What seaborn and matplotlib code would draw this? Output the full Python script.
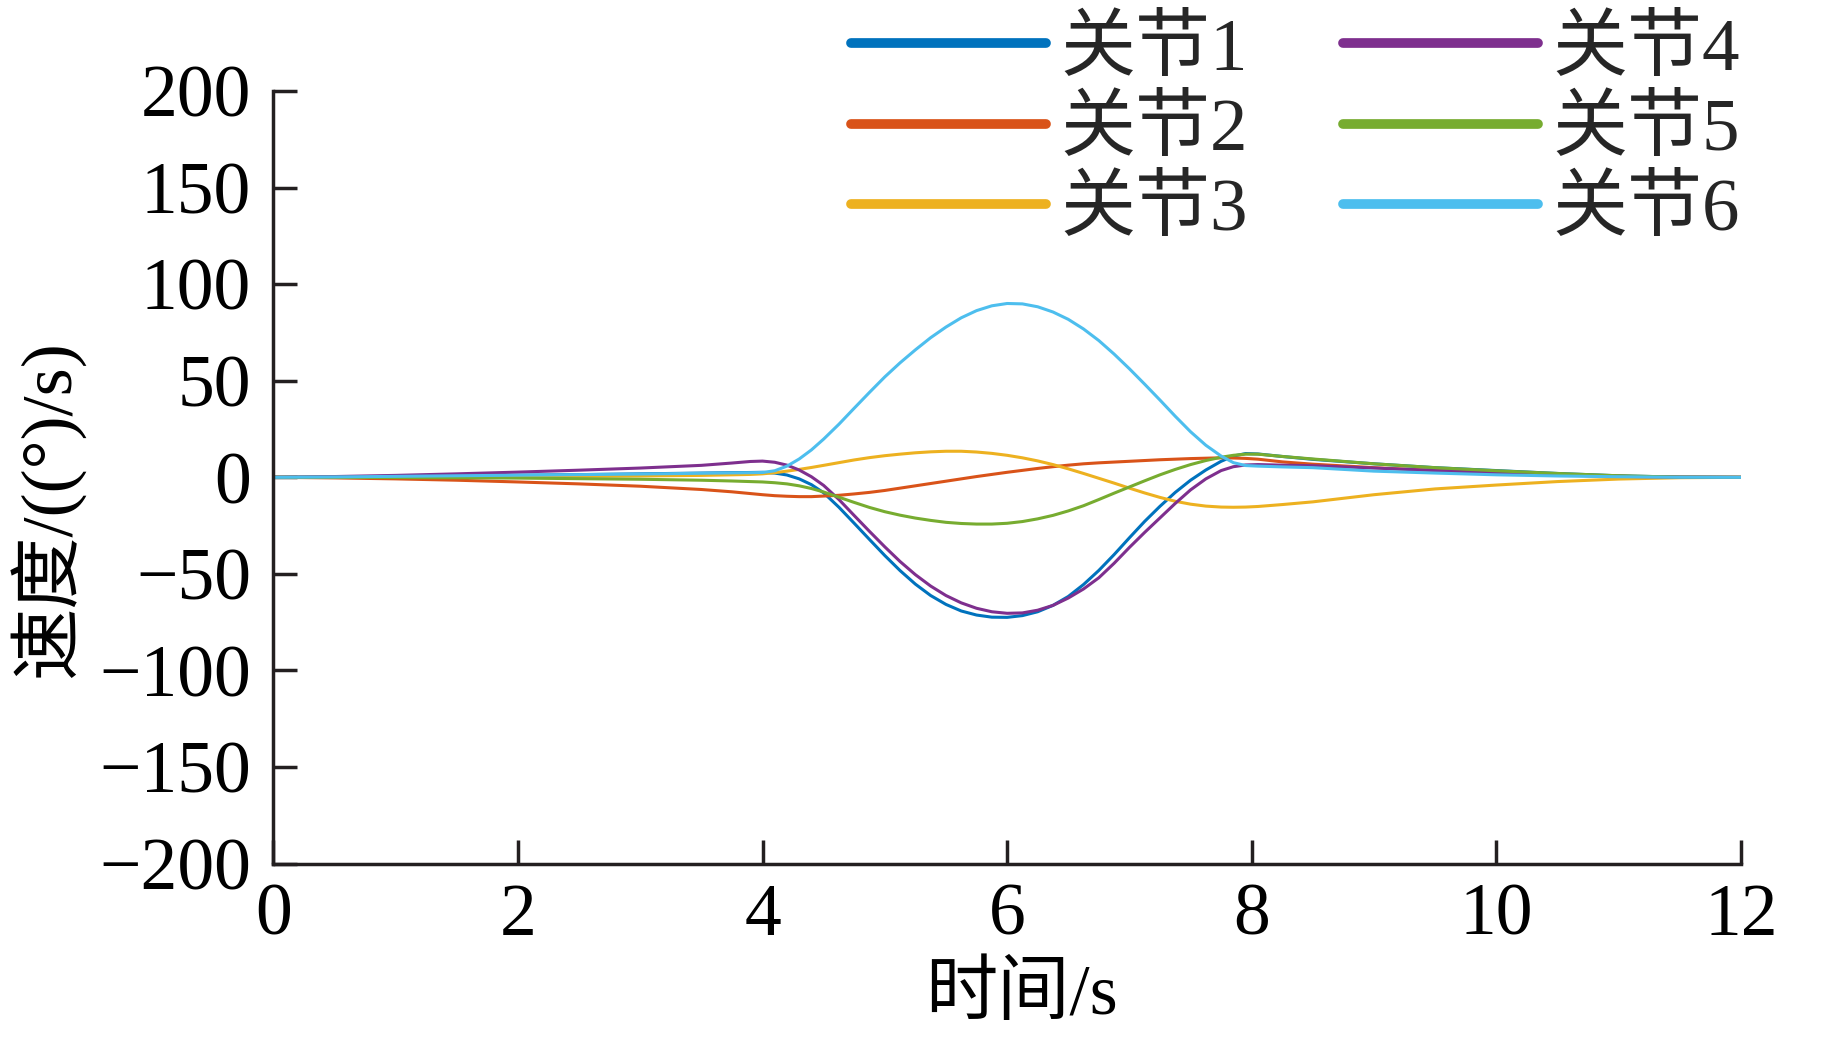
import matplotlib
matplotlib.use("Agg")
import matplotlib.pyplot as plt
from matplotlib.font_manager import FontProperties
import seaborn as sns
import pandas as pd

# ---------------- data ----------------
time_s = [0, 0.5, 1.0, 1.5, 2.0, 2.5, 3.0, 3.5, 3.75, 3.9,
          4.0, 4.1, 4.2, 4.3, 4.4, 4.5,
          4.625, 4.75, 4.875, 5.0, 5.125, 5.25, 5.375, 5.5, 5.625, 5.75, 5.875, 6.0, 6.125,
          6.25, 6.375, 6.5, 6.625, 6.75, 6.875, 7.0, 7.125, 7.25, 7.375, 7.5, 7.625, 7.75,
          7.85, 7.95, 8.05, 8.25, 8.5, 9.0, 9.5, 10.0, 10.5, 11.0, 11.5, 12.0]

joint1 = [0, 0.2, 0.5, 0.8, 1.1, 1.4, 1.8, 2.2, 2.4, 2.5,
          2.6, 2.2, 1.2, -0.8, -3.8, -8.0,
          -15.5, -23.8, -32.2, -40.5, -48.3, -55.3, -61.2, -65.8, -69.2, -71.3, -72.4, -72.5, -71.6,
          -69.6, -66.3, -61.7, -55.5, -48.2, -40, -31.3, -22.8, -15, -7.8, -1.5, 3.8, 8.3,
          11.0, 12.3, 12.1, 10.8, 9.3, 7, 5, 3.5, 2, 0.8, 0.1, 0]
joint2 = [0, -0.3, -0.8, -1.5, -2.4, -3.4, -4.6, -6.3, -7.5, -8.4,
          -9.0, -9.5, -9.8, -10.0, -10.0, -9.7,
          -9.3, -8.6, -7.8, -6.8, -5.6, -4.4, -3.2, -2.0, -0.8, 0.4, 1.5, 2.6, 3.6,
          4.6, 5.5, 6.3, 7.0, 7.5, 7.9, 8.3, 8.7, 9.1, 9.4, 9.7, 9.9, 10.1,
          10.0, 9.8, 9.4, 8.0, 6.8, 5.0, 3.5, 2.3, 1.2, 0.5, 0.1, 0]
joint3 = [0, 0, 0.1, 0.2, 0.3, 0.5, 0.7, 1.0, 1.3, 1.5,
          1.8, 2.4, 3.2, 4.1, 5.1, 6.2,
          7.6, 9.0, 10.2, 11.2, 12.0, 12.7, 13.2, 13.5, 13.5, 13.1, 12.4, 11.4, 10.1,
          8.5, 6.6, 4.4, 2.0, -0.5, -3.0, -5.6, -8.1, -10.4, -12.4, -13.9, -14.9, -15.4,
          -15.5, -15.4, -15.1, -14.1, -12.7, -9, -6, -4, -2.2, -0.9, -0.2, 0]
joint4 = [0, 0.4, 1.0, 1.8, 2.7, 3.7, 4.8, 6.2, 7.4, 8.2,
          8.4, 7.8, 6.3, 3.8, 0.3, -4.2,
          -11.5, -19.8, -28, -36, -43.6, -50.4, -56.3, -61.2, -65.0, -67.8, -69.6, -70.4, -70.2,
          -68.8, -66.3, -62.5, -57.8, -52, -44.5, -36.3, -28.5, -21, -13.5, -6.5, -0.8, 3.5,
          5.5, 6.4, 6.6, 6.3, 6.0, 4.8, 3.5, 2.3, 1.3, 0.5, 0.1, 0]
joint5 = [0, 0, -0.1, -0.2, -0.4, -0.7, -1.0, -1.5, -1.9, -2.2,
          -2.4, -2.8, -3.4, -4.4, -5.8, -7.6,
          -10.3, -13.0, -15.6, -17.8, -19.6, -21.1, -22.3, -23.3, -23.9, -24.2, -24.2, -23.8, -22.9,
          -21.5, -19.7, -17.4, -14.7, -11.5, -8.2, -5.0, -1.8, 1.3, 4.1, 6.6, 8.7, 10.4,
          11.4, 12.0, 12.0, 10.8, 9.5, 7, 5, 3.4, 2, 0.8, 0.1, 0]
joint6 = [0, 0.2, 0.5, 0.8, 1.1, 1.4, 1.7, 2.1, 2.3, 2.4,
          2.5, 3.4, 5.8, 9.5, 14.2, 19.8,
          27.5, 35.8, 44, 52, 59.3, 66, 72.3, 77.8, 82.6, 86.3, 88.8, 90, 89.8,
          88.3, 85.6, 81.8, 76.8, 70.8, 63.8, 56.2, 48.2, 40, 31.6, 23.6, 16.6, 11,
          7.6, 6.1, 5.8, 5.4, 5.0, 3.2, 2.2, 1.3, 0.7, 0.3, 0.05, 0]

series_names = ["关节1", "关节2", "关节3", "关节4", "关节5", "关节6"]
series_values = [joint1, joint2, joint3, joint4, joint5, joint6]
colors = ["#0072BD", "#D95319", "#EDB120", "#7E2F8E", "#77AC30", "#4DBEEE"]

x_ticks = [0, 2, 4, 6, 8, 10, 12]
y_ticks = [-200, -150, -100, -50, 0, 50, 100, 150, 200]
x_label = "时间/s"
y_label = "速度/((°)/s)"

df = pd.DataFrame({
    "t": time_s * len(series_names),
    "v": [v for vals in series_values for v in vals],
    "joint": [n for n in series_names for _ in time_s],
})

# ---------------- style ----------------
sns.set_theme(style="white")
fams = ["Liberation Serif", "Noto Sans CJK SC", "DejaVu Sans"]
plt.rcParams["font.family"] = fams
plt.rcParams["axes.unicode_minus"] = True

fig = plt.figure(figsize=(18.22, 10.38), dpi=100)
ax = fig.add_axes([0.150, 0.168, 0.8055, 0.7443])

sns.lineplot(data=df, x="t", y="v", hue="joint", hue_order=series_names,
             palette=dict(zip(series_names, colors)), linewidth=2.2,
             estimator=None, sort=False, ax=ax)

ax.set_xlim(0, 12)
ax.set_ylim(-200, 200)
ax.set_xticks(x_ticks)
ax.set_yticks(y_ticks)
ax.set_xticklabels([str(v) for v in x_ticks])
ax.set_yticklabels([f"{v}".replace("-", "\u2212") for v in y_ticks])

for s in ["top", "right"]:
    ax.spines[s].set_visible(False)
for s in ["left", "bottom"]:
    ax.spines[s].set_color("#231f20")
    ax.spines[s].set_linewidth(2.5)

ax.tick_params(axis="both", which="major", bottom=True, left=True, top=False, right=False,
               direction="in", length=17, width=2.5, color="#231f20",
               labelsize=53, labelcolor="black")
ax.tick_params(axis="y", pad=16)
ax.tick_params(axis="x", pad=14)

lab_font = FontProperties(family=fams, size=52)
ax.set_xlabel(x_label, fontproperties=lab_font, color="black")
ax.set_ylabel(y_label, fontproperties=lab_font, color="black")
ax.xaxis.set_label_coords(0.51, -0.128)
ax.yaxis.set_label_coords(-0.128, 0.46)

handles, labels = ax.get_legend_handles_labels()
leg_font = FontProperties(family=fams, size=54)
leg = ax.legend(handles, labels, ncol=2, loc="upper right",
                bbox_to_anchor=(0.955, 0.984), bbox_transform=fig.transFigure,
                frameon=False, prop=leg_font, handlelength=2.6, handletextpad=0.2,
                columnspacing=1.26, labelspacing=0.15, borderpad=0, borderaxespad=0)
for line in leg.get_lines():
    line.set_linewidth(7)
ax.grid(False)

fig.savefig("out.png", dpi=100, facecolor="white")
